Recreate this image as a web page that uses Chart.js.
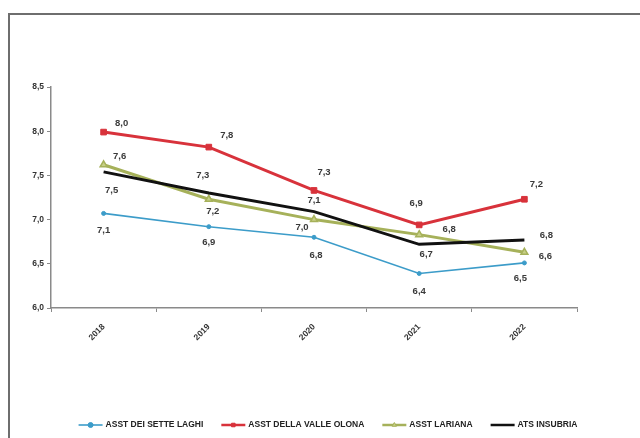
<!DOCTYPE html>
<html>
<head>
<meta charset="utf-8">
<script src="https://cdn.jsdelivr.net/npm/chart.js@4.4.1/dist/chart.umd.min.js"></script>
<style>
  html, body { margin: 0; padding: 0; background: #fff; }
  #wrap { position: relative; width: 640px; height: 438px; overflow: hidden; }
  #frame { position: absolute; left: 8px; top: 13px; width: 700px; height: 500px;
           border-left: 2px solid #6e6e6e; border-top: 2px solid #6e6e6e; box-sizing: border-box; }
  canvas { position: absolute; left: 0; top: 0; }
</style>
</head>
<body>
<div id="wrap">
  <div id="frame"></div>
  <canvas id="c" width="640" height="438"></canvas>
</div>
<script>
// Years on the horizontal axis
const years = ['2018', '2019', '2020', '2021', '2022'];

// Series values
const setteLaghi   = [7.07, 6.92, 6.80, 6.39, 6.51];
const valleOlona   = [7.99, 7.82, 7.33, 6.94, 7.23];
const lariana      = [7.62, 7.23, 7.00, 6.83, 6.63];
const atsInsubria  = [7.54, 7.30, 7.09, 6.72, 6.77];

// Vertical axis range
const yMin = 6.0, yMax = 8.5, yStep = 0.5;

// Where each value label sits relative to its point (dx, dy in px)
const labelOffsets = [
  [[0, 17], [0, 16], [2, 18], [0, 18], [-4, 15]],
  [[18, -9], [18, -12], [10, -18], [-3, -22], [12, -15]],
  [[16, -8], [4, 12], [-12, 8], [30, -5], [21, 4]],
  [[8, 19], [-6, -18], [0, -11], [7, 10], [22, -5]]
];

const fmt = v => v.toFixed(1).replace('.', ',');
const FONT = "'Liberation Sans Narrow', 'Arial Narrow', 'Liberation Sans', sans-serif";

// Value labels next to every point
const valueLabels = {
  id: 'valueLabels',
  afterDatasetsDraw(chart) {
    const ctx = chart.ctx;
    ctx.save();
    ctx.font = 'bold 9.5px ' + FONT;
    ctx.fillStyle = '#3a3a3a';
    ctx.textAlign = 'center';
    ctx.textBaseline = 'middle';
    chart.data.datasets.forEach((ds, di) => {
      const meta = chart.getDatasetMeta(di);
      meta.data.forEach((pt, i) => {
        const off = labelOffsets[di][i];
        ctx.fillText(fmt(ds.data[i]), pt.x + off[0], pt.y + off[1]);
      });
    });
    ctx.restore();
  }
};

// Bottom legend: short line with the series marker, then the name
const lineLegend = {
  id: 'lineLegend',
  afterDraw(chart) {
    const ctx = chart.ctx;
    const sw = 24, gapText = 3, gapItem = 18, cx = 328, cy = 425;
    ctx.save();
    ctx.font = 'bold 8.5px ' + FONT;
    ctx.textBaseline = 'middle';
    ctx.textAlign = 'left';
    const items = chart.data.datasets.map(ds => ({ ds, w: sw + gapText + ctx.measureText(ds.label).width }));
    const total = items.reduce((s, it) => s + it.w, 0) + gapItem * (items.length - 1);
    let x = cx - total / 2;
    items.forEach(({ ds, w }) => {
      ctx.strokeStyle = ds.borderColor;
      ctx.lineWidth = Math.min(ds.borderWidth, 2.5);
      ctx.beginPath();
      ctx.moveTo(x, cy);
      ctx.lineTo(x + sw, cy);
      ctx.stroke();
      if (ds.pointRadius > 0) {
        ctx.fillStyle = ds.backgroundColor;
        ctx.lineWidth = 1;
        Chart.helpers.drawPoint(ctx, { pointStyle: ds.pointStyle, radius: 2.5, borderWidth: 1 }, x + sw / 2, cy);
      }
      ctx.fillStyle = '#222';
      ctx.fillText(ds.label, x + sw + gapText, cy);
      x += w + gapItem;
    });
    ctx.restore();
  }
};

new Chart(document.getElementById('c'), {
  type: 'line',
  data: {
    labels: years,
    datasets: [
      { label: 'ASST DEI SETTE LAGHI', data: setteLaghi, borderColor: '#3c9cc9', backgroundColor: '#3c9cc9',
        borderWidth: 1.6, pointStyle: 'circle', pointRadius: 2, pointBorderWidth: 1, order: 3 },
      { label: 'ASST DELLA VALLE OLONA', data: valleOlona, borderColor: '#d8323b', backgroundColor: '#d8323b',
        borderWidth: 3, pointStyle: 'rect', pointRadius: 4, pointBorderWidth: 1, order: 0 },
      { label: 'ASST LARIANA', data: lariana, borderColor: '#a6b15a', backgroundColor: '#c7cf86',
        borderWidth: 3, pointStyle: 'triangle', pointRadius: 4, pointBorderWidth: 1.5, order: 2 },
      { label: 'ATS INSUBRIA', data: atsInsubria, borderColor: '#111111', backgroundColor: '#111111',
        borderWidth: 3, pointRadius: 0, order: 1 }
    ]
  },
  options: {
    responsive: false,
    animation: false,
    layout: { padding: { left: 0, right: 63, top: 87, bottom: 36 } },
    plugins: {
      tooltip: { enabled: false },
      legend: { display: false }
    },
    scales: {
      x: {
        offset: true,
        border: { color: '#8a8a8a', width: 1.5 },
        grid: { display: true, offset: true, drawOnChartArea: false, tickLength: 4, color: '#8a8a8a' },
        ticks: { font: { family: FONT, size: 8.5, weight: 'bold' }, color: '#333', maxRotation: 45, minRotation: 45, padding: 10 },
        afterFit(s) { s.height = 94; }
      },
      y: {
        min: yMin, max: yMax,
        border: { color: '#8a8a8a', width: 1.5 },
        grid: { display: true, drawOnChartArea: false, tickLength: 4, color: '#8a8a8a' },
        ticks: { stepSize: yStep, font: { family: FONT, size: 8.5, weight: 'bold' }, color: '#333',
                 padding: 3, callback: v => fmt(v) },
        afterFit(s) { s.width = 51; }
      }
    }
  },
  plugins: [valueLabels, lineLegend]
});
</script>
</body>
</html>
